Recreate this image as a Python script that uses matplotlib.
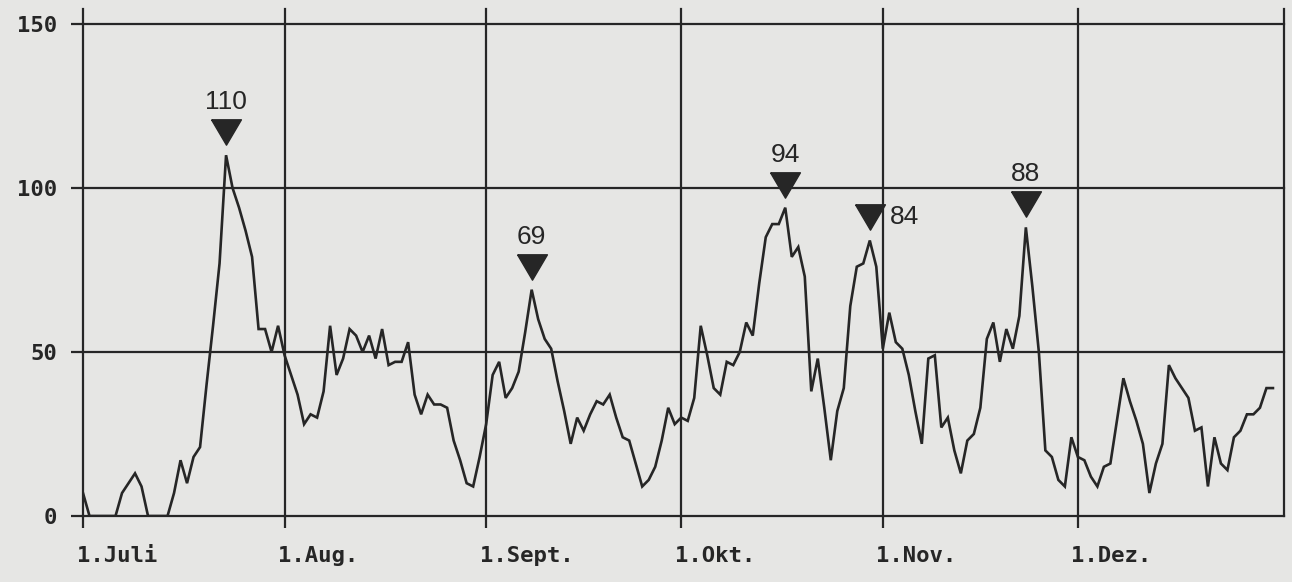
import numpy as np
import matplotlib.pyplot as plt
from matplotlib.transforms import ScaledTranslation, offset_copy

# daily values, one list per month
juli = [7, 0, 0, 0, 0, 0, 7, 10, 13, 9, 0, 0, 0, 0, 7, 17, 10, 18, 21, 40,
        58, 77, 110, 100, 94, 87, 79, 57, 57, 50, 58]
aug = [49, 43, 37, 28, 31, 30, 38, 58, 43, 48, 57, 55, 50, 55, 48, 57, 46, 47,
       47, 53, 37, 31, 37, 34, 34, 33, 23, 17, 10, 9, 18]
sept = [28, 43, 47, 36, 39, 44, 56, 69, 60, 54, 51, 41, 32, 22, 30, 26, 31, 35,
        34, 37, 30, 24, 23, 16, 9, 11, 15, 23, 33, 28]
okt = [30, 29, 36, 58, 49, 39, 37, 47, 46, 50, 59, 55, 71, 85, 89, 89, 94, 79,
       82, 73, 38, 48, 33, 17, 32, 39, 64, 76, 77, 84, 76]
nov = [51, 62, 53, 51, 43, 32, 22, 48, 49, 27, 30, 20, 13, 23, 25, 33, 54, 59,
       47, 57, 51, 61, 88, 70, 50, 20, 18, 11, 9, 24]
dez = [18, 17, 12, 9, 15, 16, 29, 42, 35, 29, 22, 7, 16, 22, 46, 42, 39, 36,
       26, 27, 9, 24, 16, 14, 24, 26, 31, 31, 33, 39, 39]

month_labels = ["1.Juli", "1.Aug.", "1.Sept.", "1.Okt.", "1.Nov.", "1.Dez."]
peak_days = [22, 69, 108, 121, 145]
peak_labels = ["110", "69", "94", "84", "88"]

months = [juli, aug, sept, okt, nov, dez]
values = np.array(sum(months, []))
days = np.arange(len(values))
month_starts = np.cumsum([0] + [len(m) for m in months[:-1]])
n_days = len(values) + 0.7

ink = "#262626"
paper = "#e6e6e4"

fig = plt.figure(figsize=(12.92, 5.82), dpi=100, facecolor=paper)
ax = fig.add_axes([83 / 1292, 1 - 516 / 582, (1284 - 83) / 1292, (516 - 24) / 582])
ax.set_facecolor(paper)
ax.set_xlim(0, n_days)
ax.set_ylim(0, 150)

for s in ["top", "left", "right"]:
    ax.spines[s].set_visible(False)
ax.spines["bottom"].set_color(ink)
ax.spines["bottom"].set_linewidth(1.6)

# frame/grid: verticals poke a bit above the 150 line like the original
for d in list(month_starts) + [n_days]:
    ax.axvline(d, ymin=0, ymax=1.03, color=ink, lw=1.6, clip_on=False, zorder=1)
for v in [50, 100, 150]:
    ax.axhline(v, color=ink, lw=1.6, zorder=1, clip_on=False)

ax.plot(days, values, color=ink, lw=1.9, zorder=3, solid_joinstyle="miter")

# peak markers
tri = [(-1, 0.85), (1, 0.85), (0, -0.85), (-1, 0.85)]
mark_tr = offset_copy(ax.transData, fig=fig, y=23, units="dots")
peak_vals = values[peak_days]
ax.plot(peak_days, peak_vals, ls="none", marker=tri, markersize=21.5,
        color=ink, mec=ink, transform=mark_tr, zorder=4, clip_on=False)
for d, v, lab in zip(peak_days, peak_vals, peak_labels):
    if lab == "84":
        ax.annotate(lab, (d, v), xytext=(20, 23), textcoords="offset pixels",
                    ha="left", va="center", fontsize=19,
                    family="Liberation Sans", color=ink)
    else:
        ax.annotate(lab, (d, v), xytext=(0, 46), textcoords="offset pixels",
                    ha="center", va="baseline", fontsize=19,
                    family="Liberation Sans", color=ink)

tick_font = dict(family="DejaVu Sans Mono", weight="bold", size=16)
ax.set_xticks(month_starts, month_labels, **tick_font)
ax.set_yticks([0, 50, 100, 150], ["0", "50", "100", "150"], **tick_font)
ax.tick_params(axis="both", direction="out", length=8.5, width=1.6,
               color=ink, labelcolor=ink)
ax.tick_params(axis="x", pad=13)
ax.tick_params(axis="y", pad=10)
for lab in ax.get_xticklabels():
    lab.set_ha("left")
    lab.set_transform(lab.get_transform() + ScaledTranslation(-6.5 / 100, 0, fig.dpi_scale_trans))

fig.savefig("out.png", dpi=100, facecolor=paper)
